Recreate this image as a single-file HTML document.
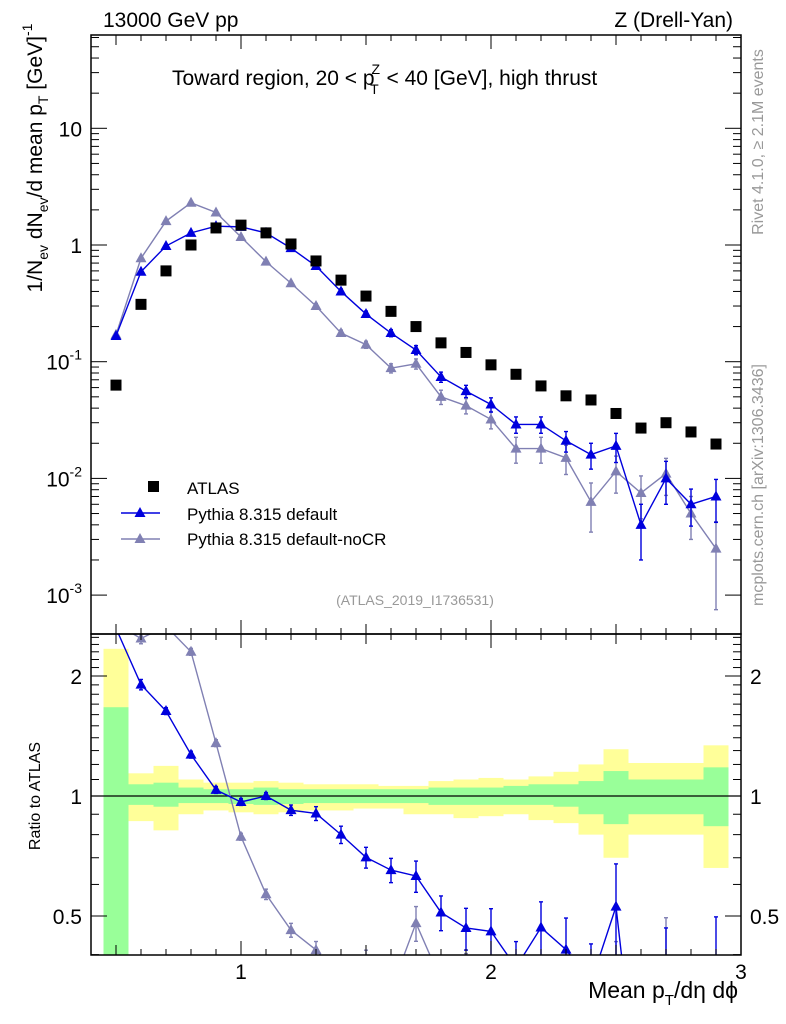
<!DOCTYPE html>
<html><head><meta charset="utf-8"><style>
html,body{margin:0;padding:0;background:#fff;width:786px;height:1024px;overflow:hidden}
svg{display:block;font-family:"Liberation Sans",sans-serif}
</style></head><body>
<svg id="c" width="786" height="1024" xmlns="http://www.w3.org/2000/svg"></svg>
<script>
const xs=[0.5,0.6,0.7,0.8,0.9,1.0,1.1,1.2,1.3,1.4,1.5,1.6,1.7,1.8,1.9,2.0,2.1,2.2,2.3,2.4,2.5,2.6,2.7,2.8,2.9];
const atlas=[0.063,0.31,0.6,1.0,1.4,1.48,1.27,1.02,0.73,0.5,0.365,0.27,0.2,0.145,0.12,0.094,0.078,0.062,0.051,0.047,0.036,0.027,0.03,0.025,0.0197];
const pyDef=[0.166,0.59,0.98,1.27,1.45,1.43,1.27,0.94,0.66,0.4,0.256,0.176,0.126,0.074,0.056,0.043,0.029,0.029,0.021,0.016,0.019,0.004,0.01,0.006,0.007];
const pyDefErr=[0.03,0.03,0.02,0.02,0.02,0.02,0.02,0.03,0.04,0.05,0.06,0.07,0.09,0.1,0.12,0.14,0.16,0.16,0.2,0.25,0.28,0.5,0.4,0.35,0.4];
const pyNoCR=[0.17,0.77,1.6,2.3,1.9,1.17,0.72,0.47,0.3,0.176,0.14,0.088,0.096,0.05,0.042,0.032,0.018,0.018,0.015,0.0063,0.0115,0.0075,0.011,0.005,0.0025];
const pyNoCRErr=[0.03,0.03,0.02,0.02,0.02,0.02,0.03,0.04,0.05,0.06,0.07,0.09,0.1,0.14,0.15,0.17,0.25,0.25,0.28,0.45,0.35,0.4,0.35,0.4,0.7];
const yellowUp=[2.34,1.14,1.19,1.10,1.08,1.08,1.09,1.08,1.07,1.07,1.07,1.06,1.06,1.09,1.10,1.11,1.10,1.12,1.15,1.2,1.31,1.21,1.21,1.21,1.34];
const yellowDn=[0.3,0.865,0.82,0.9,0.92,0.91,0.9,0.91,0.92,0.92,0.93,0.93,0.9,0.9,0.88,0.89,0.9,0.87,0.855,0.8,0.7,0.8,0.8,0.8,0.66];
const greenUp=[1.67,1.07,1.08,1.05,1.04,1.04,1.05,1.04,1.04,1.04,1.04,1.04,1.04,1.05,1.05,1.05,1.06,1.07,1.07,1.09,1.155,1.1,1.1,1.1,1.18];
const greenDn=[0.3,0.95,0.94,0.96,0.96,0.955,0.95,0.955,0.96,0.96,0.96,0.96,0.96,0.95,0.95,0.95,0.95,0.95,0.94,0.9,0.85,0.9,0.9,0.9,0.84];
const xTicks=[1,2,3];
const yMainTicks=[[10,"10"],[1,"1"],[0.1,"10^-1"],[0.01,"10^-2"],[0.001,"10^-3"]];
const yRatioTicks=[0.5,1,2];

const L=91,R=741,T=35,MB=634,RB=955;
const X=v=>L+(v-0.4)*250;
const Y=v=>245-Math.log10(v)*116.7;
const YR=v=>796-Math.log2(v)*120;
const S=document.getElementById('c');
const NS='http://www.w3.org/2000/svg';
function el(tag,a,parent){const e=document.createElementNS(NS,tag);for(const k in a)e.setAttribute(k,a[k]);(parent||S).appendChild(e);return e;}
function txt(x,y,s,a,parent){const e=el('text',Object.assign({x:x,y:y},a),parent);e.textContent=s;return e;}

const defs=el('defs',{});
const cp=el('clipPath',{id:'rc'},defs);el('rect',{x:L,y:MB,width:R-L,height:RB-MB},cp);
const cpm=el('clipPath',{id:'mc'},defs);el('rect',{x:L,y:T,width:R-L,height:MB-T},cpm);

const band=el('g',{'clip-path':'url(#rc)'});


xs.forEach((x,i)=>{
 const r1=el('rect',{x:X(x-0.05),y:YR(yellowUp[i]),width:25,height:YR(yellowDn[i])-YR(yellowUp[i]),fill:'#ffff99'},band);
 
 
 const r2=el('rect',{x:X(x-0.05),y:YR(greenUp[i]),width:25,height:YR(greenDn[i])-YR(greenUp[i]),fill:'#99ff99'},band);
 
 
});
el('line',{x1:L,x2:R,y1:YR(1),y2:YR(1),stroke:'#000','stroke-width':1.3});

function tri(g,x,y,c){el('polygon',{points:`${x},${y-6} ${x-5.5},${y+4} ${x+5.5},${y+4}`,fill:c},g);}
function series(vals,errs,col,name,ratio){
 const g=el('g',{'clip-path':ratio?'url(#rc)':'url(#mc)'});
 
 
 const yf=ratio?(i=>YR(vals[i]/atlas[i])):(i=>Y(vals[i]));
 const vf=ratio?(i,f)=>YR(vals[i]*f/atlas[i]):(i,f)=>Y(vals[i]*f);
 el('polyline',{points:xs.map((x,i)=>X(x)+','+yf(i)).join(' '),fill:'none',stroke:col,'stroke-width':1.4},g);
 xs.forEach((x,i)=>{
  const y1=vf(i,1+errs[i]),y2=vf(i,Math.max(0.01,1-errs[i]));
  el('line',{x1:X(x),x2:X(x),y1:y1,y2:y2,stroke:col,'stroke-width':1.4},g);
  el('line',{x1:X(x)-2,x2:X(x)+2,y1:y1,y2:y1,stroke:col,'stroke-width':1.4},g);
  el('line',{x1:X(x)-2,x2:X(x)+2,y1:y2,y2:y2,stroke:col,'stroke-width':1.4},g);
  tri(g,X(x),yf(i),col);
 });
}
series(pyNoCR,pyNoCRErr,'#8080b3','pythia-nocr',false);
series(pyDef,pyDefErr,'#0000dd','pythia-default',false);
series(pyNoCR,pyNoCRErr,'#8080b3','pythia-nocr',true);
series(pyDef,pyDefErr,'#0000dd','pythia-default',true);
const ga=el('g',{});


xs.forEach((x,i)=>{el('rect',{x:X(x)-5.5,y:Y(atlas[i])-5.5,width:11,height:11,fill:'#000'},ga);});

el('rect',{x:L,y:T,width:R-L,height:MB-T,fill:'none',stroke:'#000','stroke-width':1.5});
el('rect',{x:L,y:MB,width:R-L,height:RB-MB,fill:'none',stroke:'#000','stroke-width':1.5});
for(let k=5;k<=29;k++){const v=k/10,x=X(v);const len=(k%10==0)?14:(k%5==0?10:6);
 [[T,1],[MB,-1],[MB,1],[RB,-1]].forEach(([y,d])=>el('line',{x1:x,x2:x,y1:y,y2:y+d*len,stroke:'#000','stroke-width':1}));}
for(let e=-3;e<=1;e++){for(let m=1;m<=9;m++){const v=m*Math.pow(10,e),y=Y(v);if(y<T||y>MB)continue;const len=m==1?16:8;
 el('line',{x1:L,x2:L+len,y1:y,y2:y,stroke:'#000'});el('line',{x1:R,x2:R-len,y1:y,y2:y,stroke:'#000'});}}
[0.4,0.5,0.6,0.7,0.8,0.9,1,1.1,1.2,1.3,1.4,1.5,1.6,1.7,1.8,1.9,2,2.1,2.2,2.3,2.4,2.5].forEach(v=>{const y=YR(v);const big=yRatioTicks.includes(v);const len=big?16:8;
 el('line',{x1:L,x2:L+len,y1:y,y2:y,stroke:'#000'});el('line',{x1:R,x2:R-len,y1:y,y2:y,stroke:'#000'});});
xTicks.forEach(v=>{const t=txt(X(v),979,String(v),{'font-size':21,'text-anchor':'middle'});});
yMainTicks.forEach(([v,s])=>{const y=Y(v)+8;let t;
 if(s.includes('^')){const p=s.split('^');t=txt(82,y,'',{'font-size':21,'text-anchor':'end'});
  const a=el('tspan',{},t);a.textContent=p[0];const b=el('tspan',{'font-size':14,dy:-10},t);b.textContent=p[1];}
 else t=txt(82,y,s,{'font-size':21,'text-anchor':'end'});
 });
yRatioTicks.forEach(v=>{[[82,'end'],[750,'start']].forEach(([x,a])=>{const t=txt(x,YR(v)+8,String(v),{'font-size':21,'text-anchor':a});});});

function tag(t,n){}
tag(txt(103,27,'13000 GeV pp',{'font-size':21}),'beam-label');
tag(txt(733,27,'Z (Drell-Yan)',{'font-size':21,'text-anchor':'end'}),'process-label');
const tt=txt(172,85,'Toward region, 20 < p',{'font-size':21});
const s1=el('tspan',{'font-size':14,dy:-11,dx:-3},tt);s1.textContent='Z';
const s2=el('tspan',{'font-size':14,dy:20,dx:-10},tt);s2.textContent='T';
const s3=el('tspan',{dy:-9,dx:2},tt);s3.textContent=' < 40 [GeV], high thrust';
tag(tt,'plot-title');
tag(txt(415,605,'(ATLAS_2019_I1736531)',{'font-size':14,fill:'#999','text-anchor':'middle'}),'analysis-id');
const yt=txt(0,0,'1/N',{'font-size':21,transform:'translate(42,158) rotate(-90)','text-anchor':'middle'});
[['ev',14,6],[' dN',21,-6],['ev',14,6],['/d mean p',21,-6],['T',14,6],[' [GeV]',21,-6],['-1',14,-10]].forEach(([s,f,dy])=>{const t=el('tspan',{'font-size':f,dy:dy},yt);t.textContent=s;});
tag(yt,'y-axis-title');
tag(txt(0,0,'Ratio to ATLAS',{'font-size':16,transform:'translate(40,796) rotate(-90)','text-anchor':'middle'}),'ratio-axis-title');
const xt=txt(738,998,'Mean p',{'font-size':23,'text-anchor':'end'});
[['T',15,7],['/dη dϕ',23,-7]].forEach(([s,f,dy])=>{const t=el('tspan',{'font-size':f,dy:dy},xt);t.textContent=s;});
tag(xt,'x-axis-title');
tag(txt(0,0,'Rivet 4.1.0, ≥ 2.1M events',{'font-size':16,fill:'#999',transform:'translate(763,142) rotate(-90)','text-anchor':'middle'}),'rivet-label');
tag(txt(0,0,'mcplots.cern.ch [arXiv:1306.3436]',{'font-size':16,fill:'#999',transform:'translate(763,485) rotate(-90)','text-anchor':'middle'}),'mcplots-label');
const lg=el('g',{});tag(lg,'legend');
el('rect',{x:148,y:481,width:11,height:11,fill:'#000'},lg);
txt(187,494,'ATLAS',{'font-size':17},lg);
el('line',{x1:121,x2:160,y1:513,y2:513,stroke:'#0000dd','stroke-width':1.4},lg);tri(lg,140,513,'#0000dd');
txt(187,520,'Pythia 8.315 default',{'font-size':17},lg);
el('line',{x1:121,x2:160,y1:539,y2:539,stroke:'#8080b3','stroke-width':1.4},lg);tri(lg,140,539,'#8080b3');
txt(187,545,'Pythia 8.315 default-noCR',{'font-size':17},lg);
</script>
</body></html>
